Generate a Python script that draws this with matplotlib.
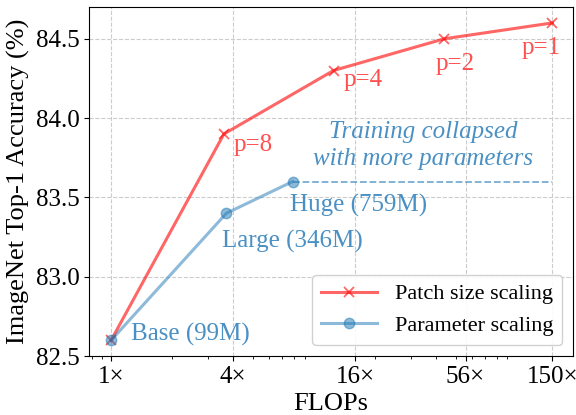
import matplotlib
matplotlib.use("Agg")
import matplotlib.pyplot as plt

# data
patch_flops = [1.0, 3.6, 12.5, 44.0, 150.0]
patch_acc = [82.6, 83.9, 84.3, 84.5, 84.6]
patch_labels = ["", "p=8", "p=4", "p=2", "p=1"]

param_flops = [1.0, 3.7, 7.85]
param_acc = [82.6, 83.4, 83.6]
param_labels = ["Base (99M)", "Large (346M)", "Huge (759M)"]

collapse_x = [7.85, 150.0]
collapse_y = [83.6, 83.6]

xticks = [1, 4, 16, 56, 150]
xticklabels = ["1×", "4×", "16×", "56×", "150×"]
yticks = [82.5, 83.0, 83.5, 84.0, 84.5]

RED = "#ff5050"
BLUE = "#4a90c4"

plt.rcParams["font.family"] = ["Liberation Serif", "DejaVu Serif"]

fig, ax = plt.subplots(figsize=(5.76, 4.15), dpi=100)
ax.plot(patch_flops, patch_acc, color="red", alpha=0.6, lw=2.2, marker="x", ms=7,
        mew=1.3, label="Patch size scaling", zorder=3)
ax.plot(param_flops, param_acc, color="#1f77b4", alpha=0.5, lw=2.2, marker="o", ms=7.5,
        label="Parameter scaling", zorder=3)
ax.plot(collapse_x, collapse_y, color="#1f77b4", alpha=0.6, lw=1.3, ls="--", zorder=2)

# labels next to points
offs_patch = [None, (7, -8), (7, -7), (-6, -18), (-22, -18)]
for x, y, s, o in zip(patch_flops, patch_acc, patch_labels, offs_patch):
    if s:
        ax.annotate(s, (x, y), xytext=o, textcoords="offset points", color=RED,
                    fontsize=18, ha="left", va="center")
offs_param = [(14, 4), (-3, -20), (-2, -17)]
for x, y, s, o in zip(param_flops, param_acc, param_labels, offs_param):
    ax.annotate(s, (x, y), xytext=o, textcoords="offset points", color=BLUE,
                fontsize=18, ha="left", va="center")

ax.text(34.7, 83.83, "Training collapsed\nwith more parameters", color=BLUE, fontsize=18,
        style="italic", ha="center", va="center", linespacing=1.3)

ax.set_xscale("log")
ax.set_xlim(0.78, 190)
ax.set_ylim(82.5, 84.7)
ax.set_xticks(xticks)
ax.set_xticklabels(xticklabels)
ax.set_yticks(yticks)
ax.tick_params(labelsize=18)
ax.grid(True, ls="--", color="#cccccc", lw=0.8)
ax.set_axisbelow(True)
ax.set_xlabel("FLOPs", fontsize=19)
ax.set_ylabel("ImageNet Top-1 Accuracy (%)", fontsize=19)
ax.legend(loc="lower right", fontsize=16, framealpha=0.9, handlelength=2.5)

fig.subplots_adjust(left=0.155, right=0.995, top=0.983, bottom=0.142)
fig.savefig("out.png", dpi=100)
